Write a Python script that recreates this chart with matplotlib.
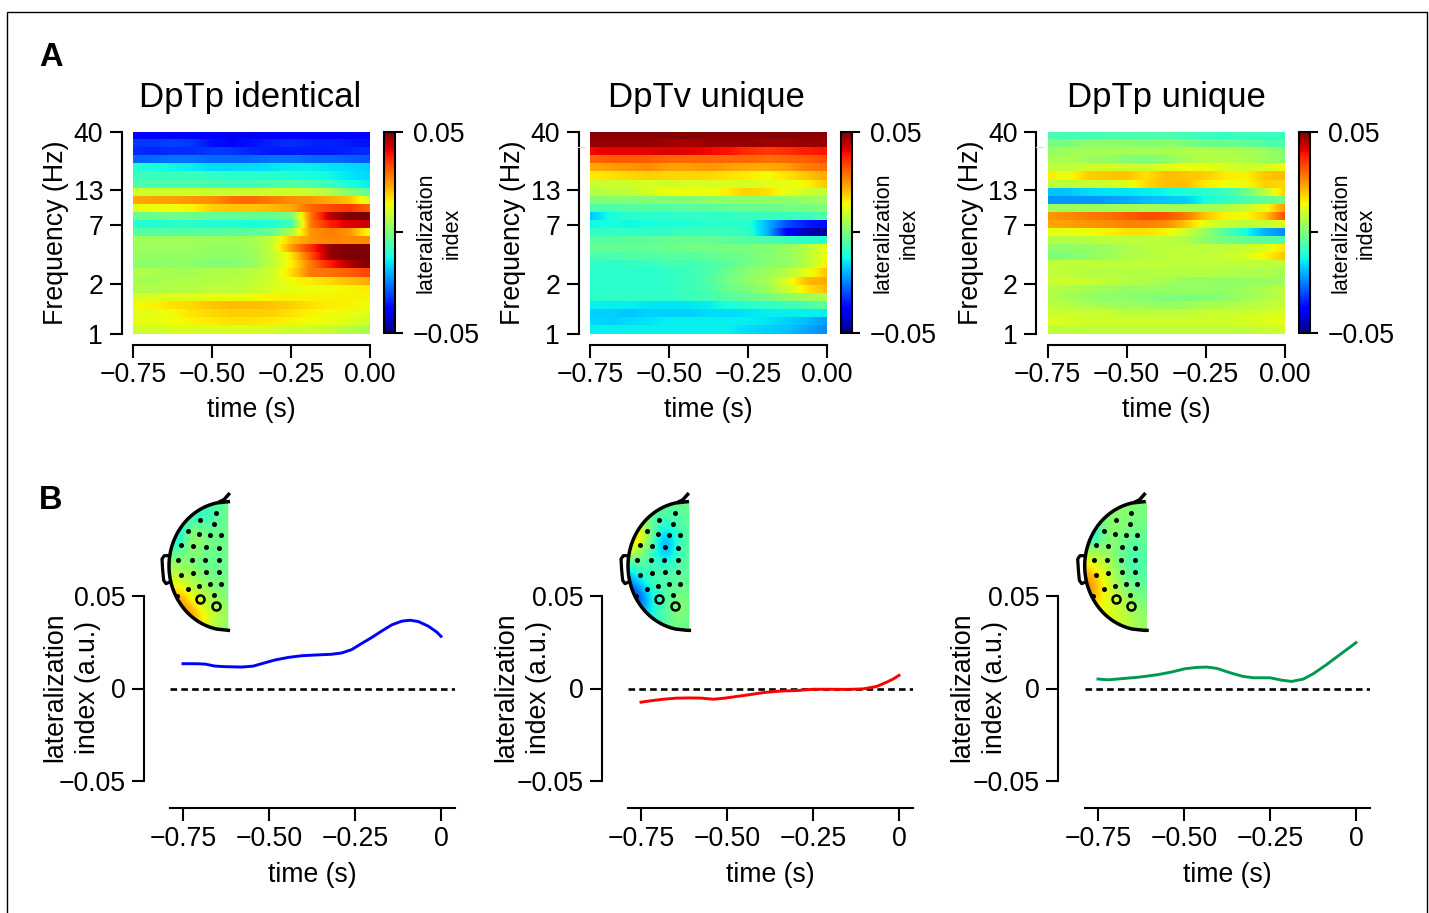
import numpy as np
import matplotlib
matplotlib.use("Agg")
import matplotlib.pyplot as plt
from matplotlib.cm import ScalarMappable
from matplotlib.colors import Normalize
from matplotlib.patches import Polygon

plt.rcParams["font.family"] = ["Liberation Sans", "DejaVu Sans"]

W, H = 1429, 913

titles = ["DpTp identical", "DpTv unique", "DpTp unique"]
freq_ticks = [25, 17.8, 13.5, 6.2, 0]
freq_labels = ["40", "13", "7", "2", "1"]
cols = ["blue", "red", "#009a4e"]

# heatmap values, in units of 0.01, top row first, columns from -0.75 to 0 s
map_a = [
    [-3.9, -3.9, -3.9, -3.9, -3.9, -4.0, -4.0, -3.9, -3.9, -3.9, -3.9, -3.9, -3.9],
    [-3.2, -3.2, -3.1, -3.2, -3.6, -3.7, -3.6, -3.4, -3.3, -3.4, -3.4, -3.5, -3.6],
    [-3.3, -3.4, -3.3, -3.3, -3.2, -3.2, -3.4, -3.5, -3.5, -3.5, -3.5, -3.4, -3.3],
    [-2.7, -2.7, -2.6, -2.6, -2.7, -2.7, -2.7, -2.6, -2.6, -2.7, -2.7, -2.8, -2.9],
    [-1.0, -1.2, -1.3, -1.4, -1.6, -1.6, -1.6, -1.5, -1.4, -1.4, -1.5, -1.6, -1.7],
    [-0.8, -0.8, -0.8, -0.8, -0.9, -1.0, -1.0, -1.0, -1.1, -1.2, -1.3, -1.5, -1.6],
    [-0.6, -0.6, -0.6, -0.6, -0.6, -0.7, -0.7, -0.6, -0.5, -0.6, -0.8, -1.2, -1.4],
    [1.0, 1.0, 1.0, 1.0, 0.9, 0.9, 0.9, 1.0, 1.0, 0.9, 0.6, 0.1, -0.4],
    [2.3, 2.4, 2.4, 2.5, 2.6, 2.9, 3.0, 2.8, 2.6, 2.5, 2.3, 2.0, 1.0],
    [1.3, 1.4, 1.4, 1.5, 1.9, 2.0, 2.0, 2.1, 2.3, 3.0, 3.3, 3.5, 3.0],
    [-0.2, -0.2, -0.1, -0.2, -0.3, -0.3, -0.3, -0.3, -0.1, 2.8, 4.5, 5.0, 5.0],
    [-1.0, -1.1, -1.0, -1.0, -1.1, -1.1, -1.2, -1.1, -0.7, 2.8, 3.8, 4.2, 4.3],
    [-0.5, -0.5, -0.5, -0.5, -0.5, -0.4, -0.4, -0.3, 0.5, 2.5, 2.8, 2.5, 1.3],
    [0.4, 0.4, 0.4, 0.4, 0.4, 0.4, 0.5, 0.8, 2.0, 2.5, 2.7, 2.6, 2.6],
    [0.4, 0.4, 0.4, 0.4, 0.3, 0.3, 0.4, 0.9, 2.4, 3.6, 4.8, 5.0, 5.0],
    [0.3, 0.3, 0.3, 0.3, 0.2, 0.2, 0.3, 0.8, 1.6, 3.2, 4.8, 5.0, 5.0],
    [0.2, 0.2, 0.2, 0.2, 0.1, 0.1, 0.3, 0.8, 1.5, 2.8, 3.8, 4.6, 5.0],
    [0.6, 0.6, 0.5, 0.5, 0.6, 0.6, 0.7, 1.0, 1.7, 2.8, 2.9, 3.1, 3.4],
    [0.5, 0.5, 0.6, 0.6, 0.7, 0.7, 0.8, 1.0, 1.4, 1.6, 1.8, 2.1, 2.3],
    [0.6, 0.6, 0.7, 0.7, 0.8, 0.8, 0.9, 1.1, 1.3, 1.4, 1.4, 1.5, 1.6],
    [1.1, 1.1, 1.2, 1.2, 1.3, 1.3, 1.4, 1.5, 1.5, 1.5, 1.5, 1.5, 1.5],
    [1.4, 1.5, 1.7, 1.8, 2.0, 2.1, 2.1, 2.0, 1.9, 1.7, 1.6, 1.5, 1.4],
    [1.2, 1.3, 1.4, 1.7, 1.8, 1.9, 1.9, 1.9, 1.7, 1.5, 1.4, 1.3, 1.2],
    [1.3, 1.3, 1.4, 1.5, 1.6, 1.7, 1.7, 1.6, 1.5, 1.4, 1.3, 1.2, 1.0],
    [1.0, 1.0, 1.1, 1.1, 1.1, 1.1, 1.1, 1.1, 1.0, 1.0, 0.9, 0.7, 0.5],
]
map_b = [
    [4.9, 4.9, 4.9, 4.9, 4.9, 4.9, 4.9, 4.9, 4.9, 4.9, 4.9, 4.9, 4.9],
    [4.8, 4.8, 4.8, 4.8, 4.7, 4.6, 4.8, 4.8, 4.8, 4.7, 4.7, 4.8, 4.8],
    [4.0, 4.1, 4.1, 4.1, 4.2, 4.1, 4.0, 3.9, 3.6, 3.5, 3.6, 3.8, 3.9],
    [3.0, 3.1, 3.1, 3.1, 3.0, 3.0, 3.0, 3.0, 3.0, 2.9, 3.0, 3.1, 3.3],
    [2.3, 2.4, 2.5, 2.6, 2.4, 2.4, 2.5, 2.4, 2.3, 2.3, 2.4, 2.8, 2.9],
    [1.6, 1.7, 1.8, 1.9, 1.8, 1.8, 1.8, 1.7, 1.6, 1.4, 1.7, 2.0, 2.3],
    [0.9, 1.0, 1.0, 1.1, 1.0, 1.1, 1.1, 1.1, 1.1, 1.2, 1.3, 1.5, 2.0],
    [0.6, 0.8, 0.8, 1.1, 1.4, 1.4, 1.3, 1.6, 1.9, 1.7, 1.3, 1.0, 0.8],
    [0.1, 0.1, 0.1, 0.1, 0.1, 0.1, 0.2, 0.2, 0.2, 0.2, 0.2, 0.3, 0.4],
    [-0.6, -0.6, -0.5, -0.5, -0.5, -0.4, -0.4, -0.3, -0.2, -0.2, -0.1, -0.1, 0.1],
    [-1.8, -1.2, -1.0, -1.0, -1.0, -0.9, -0.9, -0.9, -0.8, -0.8, -0.8, -0.8, -0.5],
    [-1.3, -1.2, -1.3, -1.2, -1.1, -1.1, -1.0, -1.0, -1.0, -2.0, -3.0, -3.5, -3.7],
    [-0.9, -0.9, -0.9, -0.9, -0.9, -0.8, -0.8, -0.8, -0.9, -2.0, -3.8, -4.5, -4.8],
    [-0.5, -0.5, -0.4, -0.4, -0.3, -0.3, -0.3, -0.4, -0.5, -0.6, -0.8, -1.0, -1.0],
    [-0.3, -0.3, -0.3, -0.3, -0.2, -0.1, -0.1, -0.1, 0.0, 0.1, 0.3, 0.7, 1.3],
    [-0.6, -0.6, -0.5, -0.5, -0.4, -0.4, -0.3, -0.2, -0.1, 0.1, 0.3, 0.7, 1.4],
    [-0.9, -0.9, -0.9, -0.8, -0.7, -0.7, -0.6, -0.4, -0.1, 0.1, 0.3, 0.7, 1.6],
    [-1.0, -1.0, -1.0, -1.0, -0.9, -0.8, -0.6, -0.2, 0.2, 0.4, 0.7, 1.3, 2.0],
    [-1.0, -1.0, -1.0, -1.0, -0.9, -0.8, -0.5, -0.1, 0.2, 0.5, 1.2, 2.1, 2.3],
    [-1.0, -1.0, -1.0, -1.0, -0.9, -0.8, -0.6, -0.2, 0.0, 0.4, 0.9, 1.7, 2.1],
    [-1.0, -0.9, -0.9, -0.9, -0.9, -0.8, -0.7, -0.5, -0.3, -0.1, 0.2, 0.4, 0.6],
    [-1.4, -1.4, -1.4, -1.5, -1.5, -1.5, -1.4, -1.2, -1.0, -0.9, -0.8, -0.6, -0.3],
    [-1.7, -1.7, -1.8, -1.7, -1.7, -1.7, -1.6, -1.6, -1.5, -1.4, -1.4, -1.4, -1.4],
    [-1.6, -1.7, -1.6, -1.5, -1.4, -1.4, -1.4, -1.4, -1.4, -1.5, -1.7, -1.9, -2.2],
    [-1.4, -1.4, -1.4, -1.4, -1.4, -1.4, -1.4, -1.4, -1.6, -1.7, -1.8, -2.1, -2.4],
]
map_c = [
    [-0.6, -0.7, -0.7, -0.6, -0.6, -0.6, -0.6, -0.7, -0.8, -0.9, -0.8, -0.8, -0.8],
    [-0.1, 0.0, 0.2, 0.2, 0.2, 0.1, 0.2, 0.0, -0.2, -0.2, -0.3, -0.5, -0.6],
    [0.3, 0.4, 0.5, 0.5, 0.5, 0.5, 0.5, 0.6, 0.6, 0.6, 0.5, 0.4, 0.0],
    [0.5, 0.6, 0.4, 0.3, 0.1, 0.0, 0.2, 0.5, 0.7, 0.7, 0.6, 0.4, 0.2],
    [0.8, 0.8, 1.0, 1.1, 1.0, 1.0, 1.2, 1.4, 1.3, 1.1, 1.0, 1.1, 1.4],
    [1.6, 1.3, 1.9, 2.0, 2.0, 1.7, 2.1, 2.0, 1.9, 1.6, 1.5, 2.0, 2.1],
    [0.8, 0.8, 0.9, 1.0, 1.2, 1.8, 2.1, 2.1, 1.6, 1.4, 1.4, 1.9, 1.8],
    [-1.8, -1.8, -1.6, -1.5, -1.5, -1.4, -1.3, -1.1, -1.0, -0.8, -0.2, 0.8, 1.9],
    [-2.3, -2.3, -2.3, -2.2, -2.1, -1.9, -1.8, -1.7, -1.2, -0.9, -0.6, -0.3, -0.1],
    [0.4, 0.4, 0.4, 0.4, 0.5, 0.5, 0.5, 0.5, 0.5, 0.6, 0.9, 1.3, 2.5],
    [2.5, 2.6, 2.8, 2.9, 3.1, 3.3, 3.2, 2.8, 2.0, 1.5, 1.4, 2.0, 3.3],
    [2.3, 2.4, 2.5, 2.6, 2.7, 2.7, 2.6, 2.0, 1.2, 0.9, 0.8, 0.9, 1.2],
    [1.3, 1.3, 1.4, 1.5, 1.7, 1.7, 1.5, 1.0, 0.3, -0.5, -1.2, -2.0, -2.4],
    [0.7, 0.7, 0.7, 0.8, 0.8, 0.8, 0.8, 0.6, 0.2, -0.1, -0.3, -0.4, -0.5],
    [0.2, 0.2, 0.3, 0.4, 0.6, 0.7, 0.8, 0.8, 0.8, 0.8, 0.9, 1.2, 1.7],
    [0.0, 0.1, 0.2, 0.4, 0.6, 0.7, 0.8, 0.8, 0.8, 0.9, 1.1, 1.5, 2.0],
    [0.8, 0.8, 0.8, 0.8, 0.8, 0.8, 0.8, 0.8, 0.8, 0.8, 0.8, 0.8, 0.8],
    [0.8, 0.8, 0.7, 0.7, 0.7, 0.7, 0.7, 0.7, 0.7, 0.6, 0.6, 0.6, 0.5],
    [0.9, 1.0, 0.9, 0.8, 0.7, 0.6, 0.5, 0.3, 0.3, 0.2, 0.3, 0.3, 0.4],
    [0.7, 0.6, 0.5, 0.4, 0.3, 0.3, 0.3, 0.3, 0.3, 0.3, 0.4, 0.6, 0.8],
    [0.7, 0.5, 0.3, 0.2, 0.2, 0.1, 0.0, 0.0, 0.1, 0.2, 0.4, 0.6, 0.8],
    [0.8, 0.7, 0.6, 0.5, 0.4, 0.4, 0.3, 0.4, 0.5, 0.6, 0.7, 0.8, 0.9],
    [1.0, 1.0, 0.9, 0.9, 0.8, 0.8, 0.8, 0.8, 0.9, 0.9, 1.0, 1.1, 1.2],
    [1.1, 1.1, 1.0, 1.0, 1.0, 1.0, 1.0, 1.0, 1.0, 1.0, 1.1, 1.2, 1.3],
    [0.8, 0.8, 0.8, 0.8, 0.8, 0.8, 0.8, 0.8, 0.8, 0.8, 0.8, 0.9, 1.0],
]

# lateralization time courses
t_a = [-0.75, -0.715, -0.686, -0.657, -0.628, -0.579, -0.546, -0.512, -0.483, -0.444, -0.405,
       -0.366, -0.318, -0.289, -0.26, -0.231, -0.202, -0.172, -0.143, -0.114, -0.09, -0.066,
       -0.037, -0.013, 0]
li_a = [0.0134, 0.0134, 0.0132, 0.0121, 0.0118, 0.0116, 0.0121, 0.0139, 0.0154, 0.0168, 0.0177,
        0.0181, 0.0185, 0.0192, 0.021, 0.0243, 0.0275, 0.0311, 0.0344, 0.0364, 0.0369, 0.0362,
        0.0337, 0.0306, 0.0282]
t_b = [-0.75, -0.724, -0.685, -0.646, -0.608, -0.574, -0.54, -0.506, -0.472, -0.433, -0.394,
       -0.346, -0.297, -0.249, -0.201, -0.152, -0.104, -0.065, -0.036, -0.016, 0]
li_b = [-0.0074, -0.0067, -0.0058, -0.0052, -0.0051, -0.0052, -0.0058, -0.0052, -0.0043, -0.0033,
        -0.0022, -0.0014, -0.0011, -0.0004, -0.0004, -0.0005, -0.0002, 0.0011, 0.0034, 0.0052, 0.0071]
t_c = [-0.75, -0.72, -0.676, -0.628, -0.579, -0.536, -0.497, -0.463, -0.434, -0.405, -0.366,
       -0.328, -0.298, -0.25, -0.216, -0.187, -0.153, -0.124, -0.085, -0.047, -0.017, 0]
li_c = [0.0051, 0.0047, 0.0054, 0.0062, 0.0074, 0.0089, 0.0107, 0.0114, 0.0116, 0.0109, 0.0085,
        0.0065, 0.0058, 0.0058, 0.0045, 0.0038, 0.0051, 0.008, 0.013, 0.0183, 0.0224, 0.0248]

# scalp maps, units of 0.01, rows from the top of the head down
topo_a = [
    [0.0, -0.2, -0.5, -0.8, -0.4, -0.1],
    [-0.6, -0.8, -1.2, -1.0, -0.3, -0.1],
    [-2.2, -1.6, 1.0, -0.1, -0.2, -0.1],
    [-0.5, -0.5, 0.2, -0.2, -0.2, -0.1],
    [0.6, 0.5, 0.0, -0.4, -0.3, -0.1],
    [1.3, 1.2, 0.6, 0.3, -0.1, -0.1],
    [2.8, 2.6, 1.3, 0.7, 0.3, 0.0],
    [3.4, 3.4, 2.6, 1.3, 0.6, 0.2],
    [3.0, 2.8, 2.0, 0.9, 0.4, 0.2],
]
topo_b = [
    [-0.2, -0.2, -0.3, -0.3, -0.3, -0.2],
    [0.0, -0.1, -0.4, -0.6, -0.5, -0.2],
    [3.0, 2.4, -0.3, -2.2, -0.7, -0.3],
    [1.0, 0.6, -0.8, -2.6, -0.8, -0.3],
    [-1.0, -0.8, -0.6, -0.7, -0.5, -0.3],
    [-3.0, -1.8, -0.7, -0.5, -0.3, -0.3],
    [-4.5, -3.5, -1.3, -0.6, 0.3, -0.3],
    [-2.0, -1.8, -1.2, -0.4, 0.3, -0.3],
    [-1.0, -0.9, -0.8, -0.5, -0.4, -0.3],
]
topo_c = [
    [0.2, 0.2, 0.2, 0.2, 0.0, -0.1],
    [-0.4, 0.0, 0.2, 0.2, 0.0, -0.1],
    [-2.2, -1.6, 0.4, 0.0, -0.3, -0.2],
    [0.6, 0.6, 0.2, -0.4, -0.7, -0.3],
    [2.0, 1.3, 0.7, -0.2, -0.8, -0.4],
    [3.2, 2.4, 1.0, 0.1, -0.4, -0.3],
    [3.0, 1.8, 1.2, 0.7, 0.1, -0.1],
    [1.4, 1.3, 1.2, 0.9, 0.5, 0.2],
    [1.0, 1.0, 1.0, 0.8, 0.5, 0.2],
]

# sensors on the scalp maps, in the inset's own units
sensor_x = [197, 151, 192, 115, 147, 180, 214, 92, 128, 169, 207, 84, 125, 166, 207,
            92, 128, 169, 207, 115, 147, 180, 214, 82, 192]
sensor_y = [85, 105, 117, 138, 146, 150, 151, 179, 183, 187, 188, 224, 224, 224, 224,
            270, 265, 262, 261, 311, 303, 298, 298, 333, 331]
ring_x = [151, 197]
ring_y = [343, 364]

maps = [map_a, map_b, map_c]
topos = [topo_a, topo_b, topo_c]
curves = [(t_a, li_a), (t_b, li_b), (t_c, li_c)]

# pixel layout of each column
map_left = [133, 590, 1047.5]
title_dx = [-1.5, -2, 0]
line_left = [170, 628, 1085]
line_spine = [144, 602, 1058]
line_label = [71.5, 522.5, 978.5]
topo_left = [150, 609, 1065.7]
topo_right = [235, 241, 244]

norm = Normalize(-0.05, 0.05)


def px_axes(fig, x0, y0, x1, y1):
    return fig.add_axes([x0 / W, 1 - y1 / H, (x1 - x0) / W, (y1 - y0) / H])


def draw_map(fig, i):
    x0 = map_left[i]
    ax = px_axes(fig, x0, 132, x0 + 237, 334)
    values = np.array(maps[i]) * 0.01
    n = len(values)
    half = 0.75 / 24
    for r in range(n):
        ax.imshow(values[r][None, :], cmap="jet", norm=norm, aspect="auto",
                  interpolation="bilinear", extent=(-0.75 - half, half, n - r - 1, n - r))
    ax.set_xlim(-0.75, 0)
    ax.set_ylim(0, n)
    for s in ["top", "right"]:
        ax.spines[s].set_visible(False)
    ax.spines["left"].set_position(("outward", 8))
    ax.spines["bottom"].set_position(("outward", 8))
    ax.spines["left"].set_linewidth(1.5)
    ax.spines["bottom"].set_linewidth(1.5)
    ax.set_xticks([-0.75, -0.5, -0.25, 0])
    ax.set_xticklabels(["\u22120.75", "\u22120.50", "\u22120.25", "0.00"], fontsize=19.2)
    ax.set_yticks(freq_ticks)
    ax.set_yticklabels(freq_labels, fontsize=19.2)
    ax.tick_params(length=9, width=1.5, pad=3)
    ax.tick_params(axis="y", pad=4.5)
    ax.set_xlabel("time (s)", fontsize=19.2, labelpad=7)
    ax.set_ylabel("Frequency (Hz)", fontsize=19.3, labelpad=3)
    ax.set_title(titles[i], fontsize=25, pad=18, x=0.5 + title_dx[i] / 237)

    cax = px_axes(fig, x0 + 251, 132, x0 + 262, 333)
    cb = fig.colorbar(ScalarMappable(norm=norm, cmap="jet"), cax=cax)
    cb.set_ticks([-0.05, 0, 0.05])
    cb.set_ticklabels(["\u22120.05", "", "0.05"], fontsize=19.2)
    cb.ax.tick_params(length=6, width=1.5, pad=7)
    cb.outline.set_linewidth(1.5)
    fig.text((x0 + 306) / W, 1 - 233 / H, "lateralization\nindex", rotation=90, fontsize=15.5,
             ha="center", va="center", linespacing=1.31)
    # faint scan mark beside the axis in the original
    if i > 0:
        fig.add_artist(plt.Line2D([(x0 - 12) / W, (x0 - 5) / W], [1 - 147 / H, 1 - 147 / H],
                                  color="#dddddd", lw=0.8))


def draw_line(fig, i):
    x0 = line_left[i]
    ax = px_axes(fig, x0, 596, x0 + 285, 781)
    ax.set_xlim(-0.75 - 13 / 344, 14 / 344)
    ax.set_ylim(-0.05, 0.05)
    ax.axhline(0, color="black", lw=1.9, ls=(0, (2.5, 1.6)))
    ax.plot(curves[i][0], curves[i][1], color=cols[i], lw=2.1)
    for s in ["top", "right"]:
        ax.spines[s].set_visible(False)
    ax.spines["left"].set_position(("outward", (x0 - line_spine[i]) * 0.72))
    ax.spines["bottom"].set_position(("outward", 19.5))
    ax.spines["left"].set_linewidth(1.5)
    ax.spines["bottom"].set_linewidth(1.5)
    ax.set_xticks([-0.75, -0.5, -0.25, 0])
    ax.set_xticklabels(["\u22120.75", "\u22120.50", "\u22120.25", "0"], fontsize=19.2)
    ax.set_yticks([-0.05, 0, 0.05])
    ax.set_yticklabels(["\u22120.05", "0", "0.05"], fontsize=19.2)
    ax.tick_params(length=9, width=1.5, pad=4)
    ax.set_xlabel("time (s)", fontsize=19.2, labelpad=7)
    fig.text(line_label[i] / W, 1 - 687 / H, "lateralization\nindex (a.u.)", rotation=90,
             fontsize=19.2, ha="center", va="center", linespacing=1.33)


def draw_topo(fig, i):
    x0 = topo_left[i]
    ax = px_axes(fig, x0, 485, x0 + 100, 640)
    ax.set_xlim(0, 300)
    ax.set_ylim(465, 0)
    ax.axis("off")
    right = topo_right[i]
    cy, rx, ry = 243, 235 - 57, 193
    yy = np.linspace(cy - ry, cy + ry, 100)
    xx = 235 - rx * np.sqrt(np.clip(1 - ((yy - cy) / ry) ** 2, 0, 1))
    outline = np.column_stack([xx, yy])
    clip = Polygon(np.vstack([outline, [[right, cy + ry], [right, cy - ry]]]),
                   transform=ax.transData, fc="none", ec="none")
    ax.add_patch(clip)
    im = ax.imshow(np.array(topos[i]) * 0.01, cmap="jet", norm=norm, aspect="auto",
                   interpolation="bicubic", extent=(30, 270, 470, 25))
    im.set_clip_path(clip)
    ax.set_xlim(0, 300)
    ax.set_ylim(465, 0)
    ax.plot(np.append(xx, right), np.append(yy, cy + ry), color="black", lw=2.5)
    ax.plot([210, 222, 236], [50, 44, 28], color="black", lw=2.5)
    ax.plot([55, 43, 36, 38, 41, 48, 57], [212, 212, 222, 255, 286, 296, 292], color="black", lw=2.3)
    ax.plot(sensor_x, sensor_y, "o", color="black", ms=3.6, mew=0)
    ax.plot(ring_x, ring_y, "o", mfc="none", mec="black", ms=5.8, mew=1.8)


fig = plt.figure(figsize=(W / 100, H / 100), dpi=100)

for i in range(3):
    draw_map(fig, i)
    draw_line(fig, i)
    draw_topo(fig, i)

fig.text(39 / W, 1 - 57 / H, "A", fontsize=23.5, fontweight="bold", va="center")
fig.text(39 / W, 1 - 500 / H, "B", fontsize=23.5, fontweight="bold", va="center")

# outer frame of the figure, open at the bottom
fig.add_artist(plt.Line2D([7 / W, 7 / W, 1427 / W, 1427 / W], [0, 1 - 12 / H, 1 - 12 / H, 0],
                          color="black", lw=1.0))

fig.savefig("out.png", dpi=100)
plt.close(fig)
